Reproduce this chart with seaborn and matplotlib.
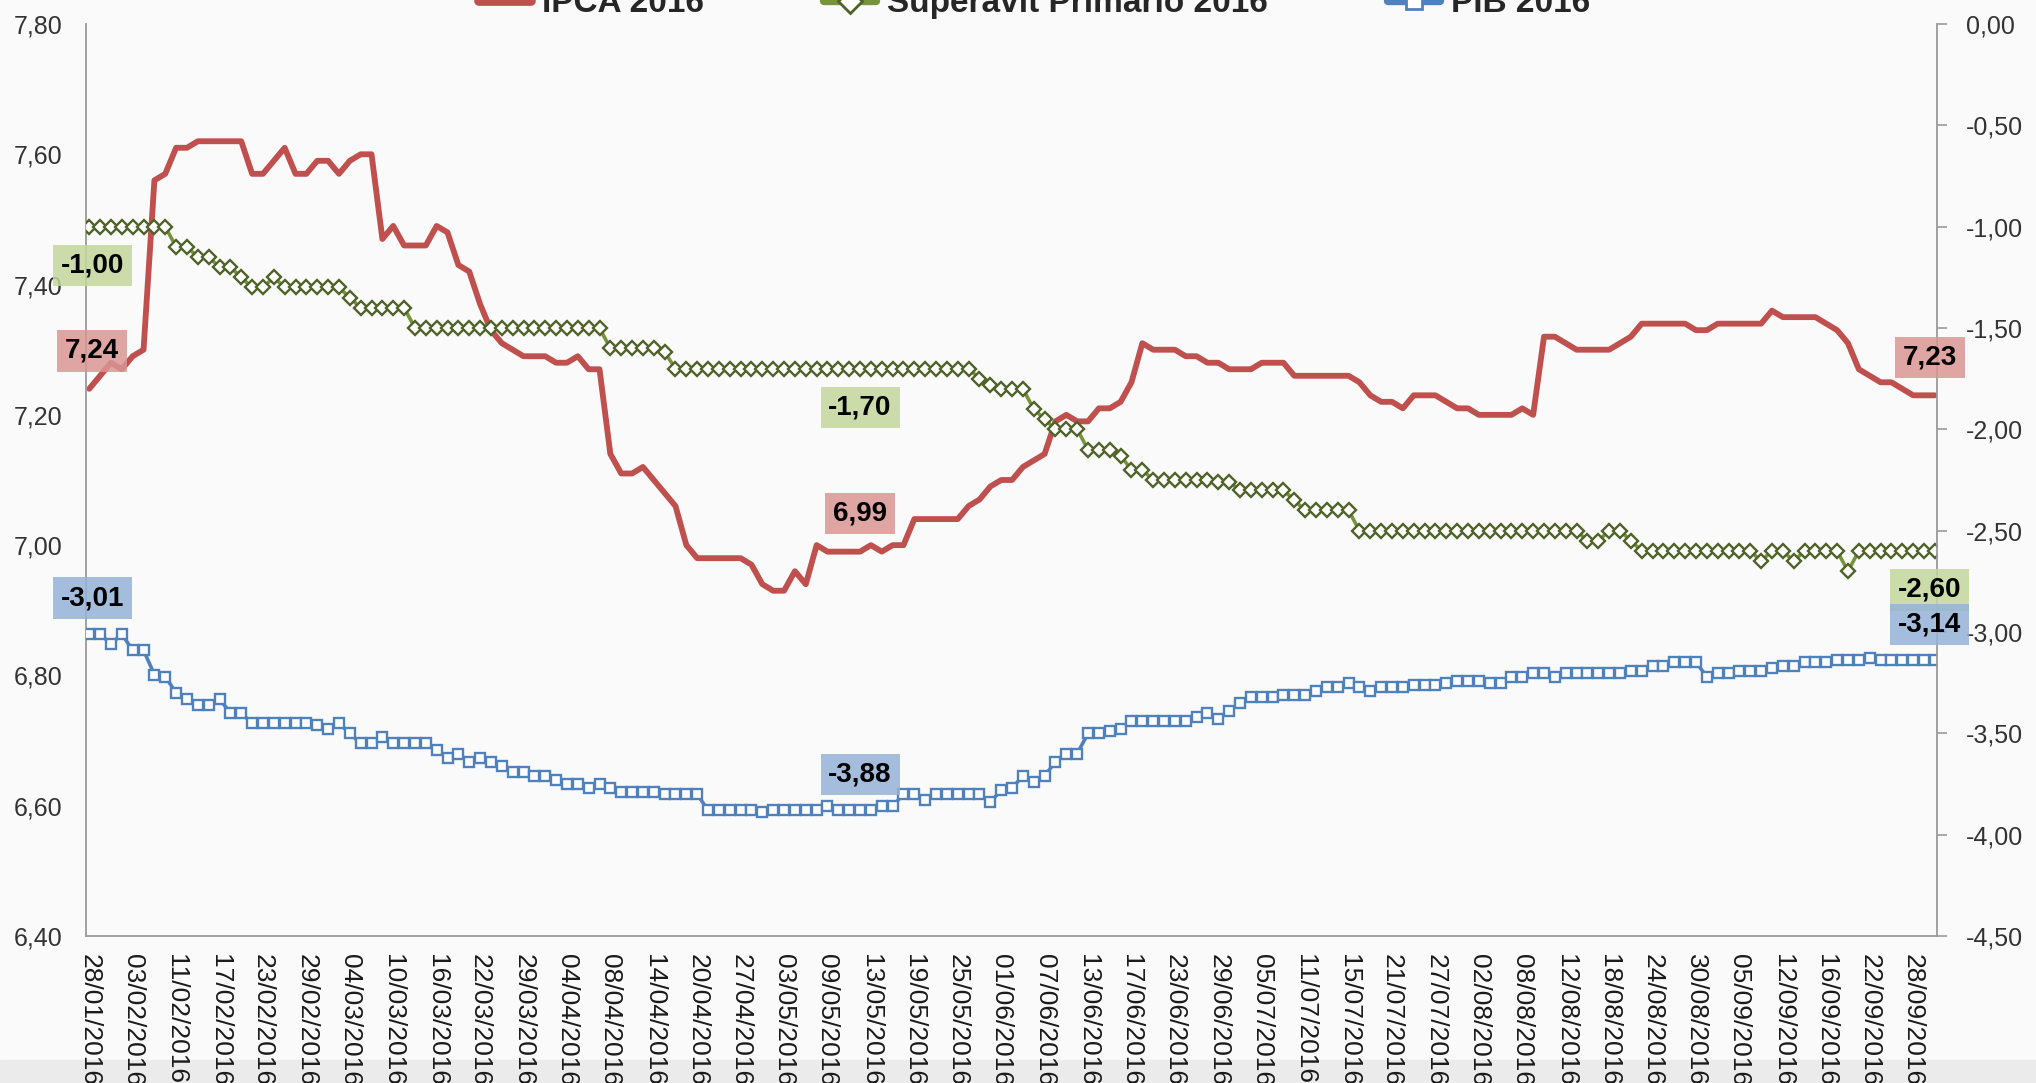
import numpy as np
import pandas as pd
import seaborn as sns
import matplotlib.pyplot as plt
from matplotlib.ticker import FuncFormatter, FixedLocator
from matplotlib.patches import Rectangle
from matplotlib.lines import Line2D

OUT_PATH = 'out.png'

# dias uteis do Focus (sem feriados nacionais) de 28/01 a 30/09/2016
FERIADOS = ['2016-02-08', '2016-02-09', '2016-03-25', '2016-04-21', '2016-05-26', '2016-09-07']
datas = pd.bdate_range('2016-01-28', '2016-09-30', freq='C', holidays=FERIADOS)

ipca = [7.24, 7.26, 7.28, 7.27, 7.29, 7.30, 7.56, 7.57, 7.61, 7.61,
        7.62, 7.62, 7.62, 7.62, 7.62, 7.57, 7.57, 7.59, 7.61, 7.57,
        7.57, 7.59, 7.59, 7.57, 7.59, 7.60, 7.60, 7.47, 7.49, 7.46,
        7.46, 7.46, 7.49, 7.48, 7.43, 7.42, 7.37, 7.33, 7.31, 7.30,
        7.29, 7.29, 7.29, 7.28, 7.28, 7.29, 7.27, 7.27, 7.14, 7.11,
        7.11, 7.12, 7.10, 7.08, 7.06, 7.00, 6.98, 6.98, 6.98, 6.98,
        6.98, 6.97, 6.94, 6.93, 6.93, 6.96, 6.94, 7.00, 6.99, 6.99,
        6.99, 6.99, 7.00, 6.99, 7.00, 7.00, 7.04, 7.04, 7.04, 7.04,
        7.04, 7.06, 7.07, 7.09, 7.10, 7.10, 7.12, 7.13, 7.14, 7.19,
        7.20, 7.19, 7.19, 7.21, 7.21, 7.22, 7.25, 7.31, 7.30, 7.30,
        7.30, 7.29, 7.29, 7.28, 7.28, 7.27, 7.27, 7.27, 7.28, 7.28,
        7.28, 7.26, 7.26, 7.26, 7.26, 7.26, 7.26, 7.25, 7.23, 7.22,
        7.22, 7.21, 7.23, 7.23, 7.23, 7.22, 7.21, 7.21, 7.20, 7.20,
        7.20, 7.20, 7.21, 7.20, 7.32, 7.32, 7.31, 7.30, 7.30, 7.30,
        7.30, 7.31, 7.32, 7.34, 7.34, 7.34, 7.34, 7.34, 7.33, 7.33,
        7.34, 7.34, 7.34, 7.34, 7.34, 7.36, 7.35, 7.35, 7.35, 7.35,
        7.34, 7.33, 7.31, 7.27, 7.26, 7.25, 7.25, 7.24, 7.23, 7.23,
        7.23]

superavit = [-1.00, -1.00, -1.00, -1.00, -1.00, -1.00, -1.00, -1.00, -1.10, -1.10,
             -1.15, -1.15, -1.20, -1.20, -1.25, -1.30, -1.30, -1.25, -1.30, -1.30,
             -1.30, -1.30, -1.30, -1.30, -1.35, -1.40, -1.40, -1.40, -1.40, -1.40,
             -1.50, -1.50, -1.50, -1.50, -1.50, -1.50, -1.50, -1.50, -1.50, -1.50,
             -1.50, -1.50, -1.50, -1.50, -1.50, -1.50, -1.50, -1.50, -1.60, -1.60,
             -1.60, -1.60, -1.60, -1.62, -1.70, -1.70, -1.70, -1.70, -1.70, -1.70,
             -1.70, -1.70, -1.70, -1.70, -1.70, -1.70, -1.70, -1.70, -1.70, -1.70,
             -1.70, -1.70, -1.70, -1.70, -1.70, -1.70, -1.70, -1.70, -1.70, -1.70,
             -1.70, -1.70, -1.75, -1.78, -1.80, -1.80, -1.80, -1.90, -1.95, -2.00,
             -2.00, -2.00, -2.10, -2.10, -2.10, -2.13, -2.20, -2.20, -2.25, -2.25,
             -2.25, -2.25, -2.25, -2.25, -2.26, -2.26, -2.30, -2.30, -2.30, -2.30,
             -2.30, -2.35, -2.40, -2.40, -2.40, -2.40, -2.40, -2.50, -2.50, -2.50,
             -2.50, -2.50, -2.50, -2.50, -2.50, -2.50, -2.50, -2.50, -2.50, -2.50,
             -2.50, -2.50, -2.50, -2.50, -2.50, -2.50, -2.50, -2.50, -2.55, -2.55,
             -2.50, -2.50, -2.55, -2.60, -2.60, -2.60, -2.60, -2.60, -2.60, -2.60,
             -2.60, -2.60, -2.60, -2.60, -2.65, -2.60, -2.60, -2.65, -2.60, -2.60,
             -2.60, -2.60, -2.70, -2.60, -2.60, -2.60, -2.60, -2.60, -2.60, -2.60,
             -2.60]

pib = [-3.01, -3.01, -3.06, -3.01, -3.09, -3.09, -3.21, -3.22, -3.30, -3.33,
       -3.36, -3.36, -3.33, -3.40, -3.40, -3.45, -3.45, -3.45, -3.45, -3.45,
       -3.45, -3.46, -3.48, -3.45, -3.50, -3.55, -3.55, -3.52, -3.55, -3.55,
       -3.55, -3.55, -3.58, -3.62, -3.60, -3.64, -3.62, -3.64, -3.66, -3.69,
       -3.69, -3.71, -3.71, -3.73, -3.75, -3.75, -3.77, -3.75, -3.77, -3.79,
       -3.79, -3.79, -3.79, -3.80, -3.80, -3.80, -3.80, -3.88, -3.88, -3.88,
       -3.88, -3.88, -3.89, -3.88, -3.88, -3.88, -3.88, -3.88, -3.86, -3.88,
       -3.88, -3.88, -3.88, -3.86, -3.86, -3.80, -3.80, -3.83, -3.80, -3.80,
       -3.80, -3.80, -3.80, -3.84, -3.78, -3.77, -3.71, -3.74, -3.71, -3.64,
       -3.60, -3.60, -3.50, -3.50, -3.49, -3.48, -3.44, -3.44, -3.44, -3.44,
       -3.44, -3.44, -3.42, -3.40, -3.43, -3.39, -3.35, -3.32, -3.32, -3.32,
       -3.31, -3.31, -3.31, -3.29, -3.27, -3.27, -3.25, -3.27, -3.29, -3.27,
       -3.27, -3.27, -3.26, -3.26, -3.26, -3.25, -3.24, -3.24, -3.24, -3.25,
       -3.25, -3.22, -3.22, -3.20, -3.20, -3.22, -3.20, -3.20, -3.20, -3.20,
       -3.20, -3.20, -3.19, -3.19, -3.17, -3.17, -3.15, -3.15, -3.15, -3.22,
       -3.20, -3.20, -3.19, -3.19, -3.19, -3.18, -3.17, -3.17, -3.15, -3.15,
       -3.15, -3.14, -3.14, -3.14, -3.13, -3.14, -3.14, -3.14, -3.14, -3.14,
       -3.14]

series_nomes = ['IPCA 2016', 'Superavit Primario 2016', 'PIB 2016']
# rotulos destacados: (serie, indice do ponto)
destaques = [('ipca', 0), ('ipca', 71), ('ipca', 170),
             ('superavit', 0), ('superavit', 71), ('superavit', 170),
             ('pib', 0), ('pib', 71), ('pib', 170)]

VERMELHO = '#C0504D'
VERDE = '#77933C'
VERDE_ESC = '#4F6228'
AZUL = '#4F81BD'
CINZA = '#9a9a9a'


def virgula(v, _=None):
    return f'{v:.2f}'.replace('.', ',')


def main():
    assert len(ipca) == len(superavit) == len(pib) == len(datas)
    x = np.arange(len(datas))

    sns.set_theme(style='white')
    plt.rcParams['font.family'] = ['Liberation Sans', 'DejaVu Sans']

    fig, ax = plt.subplots(figsize=(20.36, 10.83), dpi=100)
    fig.patch.set_facecolor('#fafafa')
    ax.set_facecolor('none')
    fig.subplots_adjust(left=86 / 2036, right=1937 / 2036, top=1 - 24 / 1083, bottom=1 - 936 / 1083)
    # faixa cinza no rodape
    fig.add_artist(Rectangle((0, 0), 1, 23 / 1083, transform=fig.transFigure,
                             color='#ebebeb', zorder=-5))

    ax2 = ax.twinx()
    ax2.set_facecolor('none')

    sns.lineplot(x=x, y=ipca, ax=ax, color=VERMELHO, linewidth=4.2, errorbar=None,
                 legend=False)
    sns.lineplot(x=x, y=superavit, ax=ax2, color=VERDE, linewidth=2.6, errorbar=None,
                 marker='D', markersize=7.2, markerfacecolor='white',
                 markeredgecolor=VERDE_ESC, markeredgewidth=1.7, legend=False)
    sns.lineplot(x=x, y=pib, ax=ax2, color=AZUL, linewidth=2.6, errorbar=None,
                 marker='s', markersize=7.0, markerfacecolor='white',
                 markeredgecolor=AZUL, markeredgewidth=1.7, legend=False)

    ax.set_xlim(-0.3, len(x) - 1 + 0.2)
    ax.set_ylim(6.4, 7.8)
    ax2.set_ylim(-4.5, 0)
    ax.yaxis.set_major_locator(FixedLocator(np.arange(6.4, 7.81, 0.2)))
    ax2.yaxis.set_major_locator(FixedLocator(np.arange(-4.5, 0.01, 0.5)))
    ax.yaxis.set_major_formatter(FuncFormatter(virgula))
    ax2.yaxis.set_major_formatter(FuncFormatter(virgula))

    pos = x[::4]
    rotulos = [d.strftime('%d/%m/%Y') for d in datas[::4]]
    ax.set_xticks(pos)
    ax.set_xticklabels(rotulos, rotation=-90, fontsize=19, color='#1a1a1a')
    ax.tick_params(axis='x', length=0, pad=13)
    ax.tick_params(axis='y', length=0, pad=17, labelsize=18, labelcolor='#333333')
    ax2.tick_params(axis='y', length=7, width=1.2, color=CINZA, pad=14,
                    labelsize=18, labelcolor='#333333')
    ax.set_xlabel('')
    ax.set_ylabel('')
    ax2.set_ylabel('')

    for s in ['top', 'right']:
        ax.spines[s].set_visible(False)
    for s in ['top', 'left', 'bottom']:
        ax2.spines[s].set_visible(False)
    for sp in [ax.spines['left'], ax.spines['bottom'], ax2.spines['right']]:
        sp.set_color(CINZA)
        sp.set_linewidth(1.3)

    # caixas de valores
    dados = {'ipca': (ipca, ax, '#D99694', +38),
             'superavit': (superavit, ax2, '#C3D69B', -39),
             'pib': (pib, ax2, '#95B3D7', +36)}
    for nome, i in destaques:
        vals, eixo, cor, dy = dados[nome]
        dx = 3 if i == 0 else (-5 if i == len(x) - 1 else 0)
        ax2.annotate(virgula(vals[i]), xy=(i, vals[i]), xycoords=eixo.transData,
                     xytext=(dx, dy), textcoords='offset pixels',
                     ha='center', va='center', fontsize=20, fontweight='bold',
                     color='black', annotation_clip=False, zorder=10,
                     bbox=dict(boxstyle='square,pad=0.28', fc=cor, ec='none', alpha=0.85))

    # legenda no topo, cortada pela borda como no original
    handles = [Line2D([], [], color=VERMELHO, lw=7),
               Line2D([], [], color=VERDE, lw=6, marker='D', markersize=12,
                      markerfacecolor='white', markeredgecolor=VERDE_ESC, markeredgewidth=2),
               Line2D([], [], color=AZUL, lw=6, marker='s', markersize=11,
                      markerfacecolor='white', markeredgecolor=AZUL, markeredgewidth=2)]
    fig.legend(handles, series_nomes, loc='center', bbox_to_anchor=(0.508, 0.9965),
               ncol=3, frameon=False, prop={'weight': 'bold', 'size': 24},
               handlelength=1.56, handletextpad=0.33, columnspacing=3.6)

    plt.savefig(OUT_PATH, dpi=100, facecolor=fig.get_facecolor())
    print(f'Grafico salvo em {OUT_PATH}')


if __name__ == '__main__':
    main()
